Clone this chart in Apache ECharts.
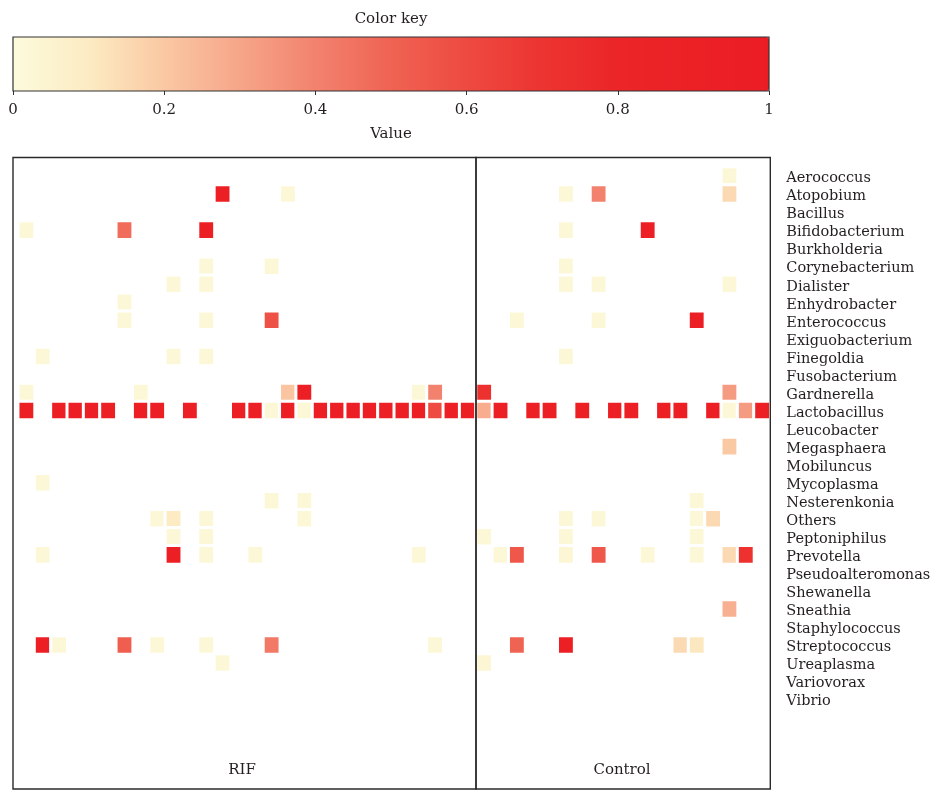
<!DOCTYPE html>
<html>
<head>
<meta charset="utf-8">
<script src="https://cdn.jsdelivr.net/npm/echarts@6/dist/echarts.min.js"></script>
<style>
  html, body { margin: 0; padding: 0; background: #fff; }
  #chart { width: 938px; height: 791px; }
</style>
</head>
<body>
<div id="chart"></div>
<script>
// Genera (rows, top to bottom)
const genera = ['Aerococcus', 'Atopobium', 'Bacillus', 'Bifidobacterium', 'Burkholderia',
  'Corynebacterium', 'Dialister', 'Enhydrobacter', 'Enterococcus', 'Exiguobacterium',
  'Finegoldia', 'Fusobacterium', 'Gardnerella', 'Lactobacillus', 'Leucobacter',
  'Megasphaera', 'Mobiluncus', 'Mycoplasma', 'Nesterenkonia', 'Others',
  'Peptoniphilus', 'Prevotella', 'Pseudoalteromonas', 'Shewanella', 'Sneathia',
  'Staphylococcus', 'Streptococcus', 'Ureaplasma', 'Variovorax', 'Vibrio'];

// Sample columns of each group
const rifSamples = ['R1','R2','R3','R4','R5','R6','R7','R8','R9','R10','R11','R12','R13','R14',
  'R15','R16','R17','R18','R19','R20','R21','R22','R23','R24','R25','R26','R27','R28'];
const controlSamples = ['C1','C2','C3','C4','C5','C6','C7','C8','C9','C10','C11','C12','C13',
  'C14','C15','C16','C17','C18'];
const groupNames = ['RIF', 'Control'];

// Relative abundance per [genus, sample number, value]; absent cells are left blank
const rifCells = [
  ['Atopobium', 13, 0.95], ['Atopobium', 17, 0.02],
  ['Bifidobacterium', 1, 0.02], ['Bifidobacterium', 7, 0.47], ['Bifidobacterium', 12, 0.95],
  ['Corynebacterium', 12, 0.02], ['Corynebacterium', 16, 0.02],
  ['Dialister', 10, 0.02], ['Dialister', 12, 0.02],
  ['Enhydrobacter', 7, 0.02],
  ['Enterococcus', 7, 0.02], ['Enterococcus', 12, 0.02], ['Enterococcus', 16, 0.57],
  ['Finegoldia', 2, 0.02], ['Finegoldia', 10, 0.02], ['Finegoldia', 12, 0.02],
  ['Gardnerella', 1, 0.02], ['Gardnerella', 8, 0.02], ['Gardnerella', 17, 0.21],
  ['Gardnerella', 18, 0.95], ['Gardnerella', 25, 0.02], ['Gardnerella', 26, 0.4],
  ['Lactobacillus', 1, 0.95], ['Lactobacillus', 3, 0.95], ['Lactobacillus', 4, 0.95],
  ['Lactobacillus', 5, 0.95], ['Lactobacillus', 6, 0.95], ['Lactobacillus', 8, 0.95],
  ['Lactobacillus', 9, 0.95], ['Lactobacillus', 11, 0.95], ['Lactobacillus', 14, 0.95],
  ['Lactobacillus', 15, 0.95], ['Lactobacillus', 16, 0.02], ['Lactobacillus', 17, 0.95],
  ['Lactobacillus', 18, 0.02], ['Lactobacillus', 19, 0.95], ['Lactobacillus', 20, 0.95],
  ['Lactobacillus', 21, 0.95], ['Lactobacillus', 22, 0.95], ['Lactobacillus', 23, 0.95],
  ['Lactobacillus', 24, 0.95], ['Lactobacillus', 25, 0.95], ['Lactobacillus', 26, 0.6],
  ['Lactobacillus', 27, 0.95], ['Lactobacillus', 28, 0.95],
  ['Mycoplasma', 2, 0.02],
  ['Nesterenkonia', 16, 0.02], ['Nesterenkonia', 18, 0.02],
  ['Others', 9, 0.02], ['Others', 10, 0.1], ['Others', 12, 0.02], ['Others', 18, 0.02],
  ['Peptoniphilus', 10, 0.02], ['Peptoniphilus', 12, 0.02],
  ['Prevotella', 2, 0.02], ['Prevotella', 10, 0.95], ['Prevotella', 12, 0.02],
  ['Prevotella', 15, 0.02], ['Prevotella', 25, 0.02],
  ['Streptococcus', 2, 0.95], ['Streptococcus', 3, 0.02], ['Streptococcus', 7, 0.52],
  ['Streptococcus', 9, 0.02], ['Streptococcus', 12, 0.02], ['Streptococcus', 16, 0.43],
  ['Streptococcus', 26, 0.02],
  ['Ureaplasma', 13, 0.02]
];

const controlCells = [
  ['Aerococcus', 16, 0.02],
  ['Atopobium', 6, 0.02], ['Atopobium', 8, 0.4], ['Atopobium', 16, 0.15],
  ['Bifidobacterium', 6, 0.02], ['Bifidobacterium', 11, 0.95],
  ['Corynebacterium', 6, 0.02],
  ['Dialister', 6, 0.02], ['Dialister', 8, 0.02], ['Dialister', 16, 0.02],
  ['Enterococcus', 3, 0.02], ['Enterococcus', 8, 0.02], ['Enterococcus', 14, 0.95],
  ['Finegoldia', 6, 0.02],
  ['Gardnerella', 1, 0.72], ['Gardnerella', 16, 0.33],
  ['Lactobacillus', 1, 0.28], ['Lactobacillus', 2, 0.95], ['Lactobacillus', 4, 0.95],
  ['Lactobacillus', 5, 0.95], ['Lactobacillus', 7, 0.95], ['Lactobacillus', 9, 0.95],
  ['Lactobacillus', 10, 0.95], ['Lactobacillus', 12, 0.95], ['Lactobacillus', 13, 0.95],
  ['Lactobacillus', 15, 0.95], ['Lactobacillus', 16, 0.02], ['Lactobacillus', 17, 0.33],
  ['Lactobacillus', 18, 0.95],
  ['Megasphaera', 16, 0.2],
  ['Nesterenkonia', 14, 0.02],
  ['Others', 6, 0.02], ['Others', 8, 0.02], ['Others', 14, 0.02], ['Others', 15, 0.15],
  ['Peptoniphilus', 1, 0.02], ['Peptoniphilus', 6, 0.02], ['Peptoniphilus', 14, 0.02],
  ['Prevotella', 2, 0.02], ['Prevotella', 3, 0.55], ['Prevotella', 6, 0.03],
  ['Prevotella', 8, 0.55], ['Prevotella', 11, 0.02], ['Prevotella', 14, 0.02],
  ['Prevotella', 16, 0.15], ['Prevotella', 17, 0.72],
  ['Sneathia', 16, 0.27],
  ['Streptococcus', 3, 0.5], ['Streptococcus', 6, 0.95], ['Streptococcus', 13, 0.15],
  ['Streptococcus', 14, 0.11],
  ['Ureaplasma', 1, 0.03]
];

// Colour ramp of the key, evenly spaced from 0 to 1
const keyColors = ['#FCFBDC', '#FCEBC3', '#FAC8A2', '#F6A689', '#F2826E', '#EF6353',
  '#EE4A41', '#EC3431', '#EB2528', '#EB2126', '#EC1C24'];

const samples = rifSamples.concat(controlSamples);
const heatData = [];
rifCells.forEach(function (c) {
  heatData.push([c[1] - 1, genera.indexOf(c[0]), c[2]]);
});
controlCells.forEach(function (c) {
  heatData.push([rifSamples.length + c[1] - 1, genera.indexOf(c[0]), c[2]]);
});

const FONT = 'DejaVu Serif';
const INK = '#231F20';

const chart = echarts.init(document.getElementById('chart'), null, { renderer: 'canvas' });

// Panel frames: RIF spans the first 28 columns, Control the last 18
const gridLeft = 18.2, gridTop = 167, colW = 16.35, rowH = 18.04;
const frameTop = 157.5, frameBottom = 789;
const rifRight = gridLeft + rifSamples.length * colW;
const ctlRight = rifRight + controlSamples.length * colW;

chart.setOption({
  backgroundColor: '#ffffff',
  animation: false,
  textStyle: { fontFamily: FONT, color: INK },
  grid: [
    { left: gridLeft, top: gridTop, width: samples.length * colW, height: genera.length * rowH },
    { left: 13, top: 37, width: 756, height: 54 }
  ],
  xAxis: [
    {
      type: 'category', gridIndex: 0, data: samples,
      axisLine: { show: false }, axisTick: { show: false }, axisLabel: { show: false },
      splitLine: { show: false }
    },
    {
      type: 'value', gridIndex: 1, min: 0, max: 1, interval: 0.2,
      axisLine: { show: false },
      axisTick: { show: true, length: 4, lineStyle: { color: '#333', width: 1 } },
      axisLabel: { fontFamily: FONT, fontSize: 15, color: INK, margin: 12 },
      splitLine: { show: false },
      name: 'Value', nameLocation: 'middle', nameGap: 36,
      nameTextStyle: { fontFamily: FONT, fontSize: 15, color: INK, padding: [0, 0, 0, 0] }
    }
  ],
  yAxis: [
    {
      type: 'category', gridIndex: 0, data: genera, inverse: true, position: 'right',
      axisLine: { show: false }, axisTick: { show: false },
      axisLabel: {
        interval: 0, margin: 16,
        formatter: function (v) { return '{g|' + v + '}'; },
        rich: { g: { fontFamily: FONT, fontSize: 14.5, color: INK, padding: [5, 0, 0, 0] } }
      },
      splitLine: { show: false }
    },
    { type: 'value', gridIndex: 1, show: false, min: 0, max: 1 }
  ],
  visualMap: {
    type: 'continuous', min: 0, max: 1, seriesIndex: 0,
    orient: 'horizontal', left: 13, top: 37, padding: 0,
    itemWidth: 54, itemHeight: 756, calculable: false, hoverLink: false,
    text: null, showLabel: false,
    inRange: { color: keyColors }
  },
  series: [
    {
      type: 'heatmap', xAxisIndex: 0, yAxisIndex: 0, data: heatData,
      itemStyle: { borderColor: '#ffffff', borderWidth: 3 },
      emphasis: { disabled: true }
    },
    { type: 'scatter', xAxisIndex: 1, yAxisIndex: 1, data: [] }
  ],
  graphic: [
    {
      type: 'text', z: 10, silent: true, x: 391, y: 19,
      style: { text: 'Color key', font: '15px "' + FONT + '"', fill: INK, textAlign: 'center', textVerticalAlign: 'middle' }
    },
    {
      type: 'rect', z: 10, silent: true,
      shape: { x: 13, y: 37, width: 756, height: 54 },
      style: { fill: 'none', stroke: '#333', lineWidth: 1.2 }
    },
    {
      type: 'rect', z: 10, silent: true,
      shape: { x: 13, y: frameTop, width: rifRight - 13, height: frameBottom - frameTop },
      style: { fill: 'none', stroke: '#2a2a2a', lineWidth: 1.4 }
    },
    {
      type: 'rect', z: 10, silent: true,
      shape: { x: rifRight, y: frameTop, width: ctlRight - rifRight, height: frameBottom - frameTop },
      style: { fill: 'none', stroke: '#2a2a2a', lineWidth: 1.4 }
    },
    {
      type: 'text', z: 10, silent: true, x: 242, y: 770,
      style: { text: groupNames[0], font: '15px "' + FONT + '"', fill: INK, textAlign: 'center', textVerticalAlign: 'middle' }
    },
    {
      type: 'text', z: 10, silent: true, x: 622, y: 770,
      style: { text: groupNames[1], font: '15px "' + FONT + '"', fill: INK, textAlign: 'center', textVerticalAlign: 'middle' }
    }
  ]
});
</script>
</body>
</html>
